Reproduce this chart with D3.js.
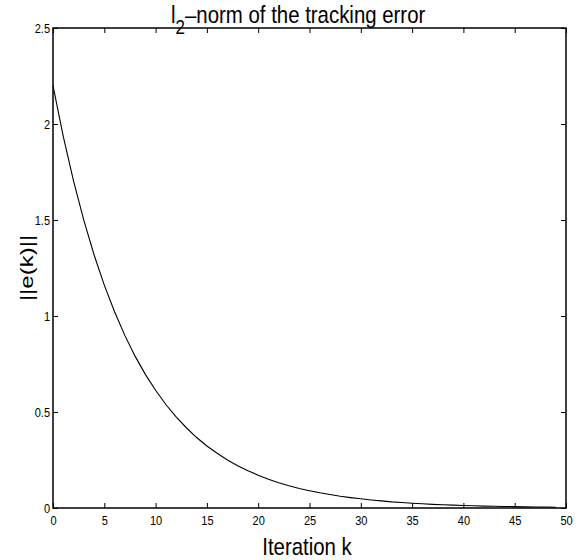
<!DOCTYPE html>
<html>
<head>
<meta charset="utf-8">
<script src="https://cdn.jsdelivr.net/npm/d3@7"></script>
<style>
  body { margin: 0; background: #fff; }
  svg text { font-family: "Liberation Sans", Arial, sans-serif; fill: #000; }
  .narrow { transform-box: fill-box; transform-origin: center; transform: scale(0.85, 1); }
  .narrow-r { transform-box: fill-box; transform-origin: right center; transform: scale(0.85, 1); }
</style>
</head>
<body>
<div id="chart"></div>
<script>
// iteration index and tracking error norm
const iterations = d3.range(0, 50);
const errorNorm = [
  2.200, 1.936, 1.704, 1.499, 1.319, 1.161, 1.022, 0.899, 0.791, 0.696,
  0.613, 0.539, 0.475, 0.418, 0.367, 0.323, 0.285, 0.250, 0.220, 0.194,
  0.171, 0.150, 0.132, 0.116, 0.102, 0.090, 0.079, 0.070, 0.061, 0.054,
  0.048, 0.042, 0.037, 0.032, 0.029, 0.025, 0.022, 0.019, 0.017, 0.015,
  0.013, 0.012, 0.010, 0.009, 0.008, 0.007, 0.006, 0.005, 0.005, 0.004
];
const xTicks = [0, 5, 10, 15, 20, 25, 30, 35, 40, 45, 50];
const yTicks = [0, 0.5, 1, 1.5, 2, 2.5];

const width = 585;
const height = 560;
const margin = { top: 28, right: 19, bottom: 52, left: 53 };
const innerW = width - margin.left - margin.right;
const innerH = height - margin.top - margin.bottom;

const svg = d3.select("#chart")
  .append("svg")
  .attr("width", width)
  .attr("height", height);

const g = svg.append("g")
  .attr("transform", "translate(" + margin.left + "," + margin.top + ")");

const x = d3.scaleLinear().domain([0, 50]).range([0, innerW]);
const y = d3.scaleLinear().domain([0, 2.5]).range([innerH, 0]);

// axes, ticks pointing inward like matlab
function styleAxis(sel) {
  sel.select(".domain").remove();
  sel.selectAll(".tick line").attr("stroke", "#000").attr("stroke-width", 1);
  sel.selectAll("text").style("font-size", "13px");
}

g.append("g")
  .attr("transform", "translate(0," + innerH + ")")
  .call(d3.axisBottom(x).tickValues(xTicks).tickSizeInner(-5).tickSizeOuter(0).tickPadding(8))
  .call(styleAxis)
  .selectAll("text").attr("class", "narrow");

g.append("g")
  .call(d3.axisTop(x).tickValues(xTicks).tickSizeInner(-5).tickSizeOuter(0).tickFormat(""))
  .call(styleAxis);

g.append("g")
  .call(d3.axisLeft(y).tickValues(yTicks).tickSizeInner(-5).tickSizeOuter(0).tickPadding(3).tickFormat(d => String(d)))
  .call(styleAxis)
  .selectAll("text").attr("class", "narrow-r");

g.append("g")
  .attr("transform", "translate(" + innerW + ",0)")
  .call(d3.axisRight(y).tickValues(yTicks).tickSizeInner(-5).tickSizeOuter(0).tickFormat(""))
  .call(styleAxis);

// box
g.append("rect")
  .attr("width", innerW)
  .attr("height", innerH)
  .attr("fill", "none")
  .attr("stroke", "#000")
  .attr("stroke-width", 1.5);

// the curve
const line = d3.line()
  .x((d, i) => x(iterations[i]))
  .y(d => y(d));

g.append("path")
  .datum(errorNorm)
  .attr("d", line)
  .attr("fill", "none")
  .attr("stroke", "#000")
  .attr("stroke-width", 1.1);

// title with subscript
const title = svg.append("text")
  .attr("transform", "translate(171,23) scale(0.85,1)")
  .style("font-size", "24px");
title.append("tspan").text("l");
title.append("tspan").attr("dy", 11).style("font-size", "20px").text("2");
title.append("tspan").attr("dy", -11).text("\u2013norm of the tracking error");

// x label
svg.append("text")
  .attr("transform", "translate(307,555) scale(0.85,1)")
  .attr("text-anchor", "middle")
  .style("font-size", "24px")
  .text("Iteration k");

// y label
svg.append("text")
  .attr("transform", "translate(33," + (margin.top + innerH / 2) + ") rotate(-90) scale(1,0.8)")
  .attr("text-anchor", "middle")
  .style("font-size", "24px")
  .text("||e(k)||");
</script>
</body>
</html>
